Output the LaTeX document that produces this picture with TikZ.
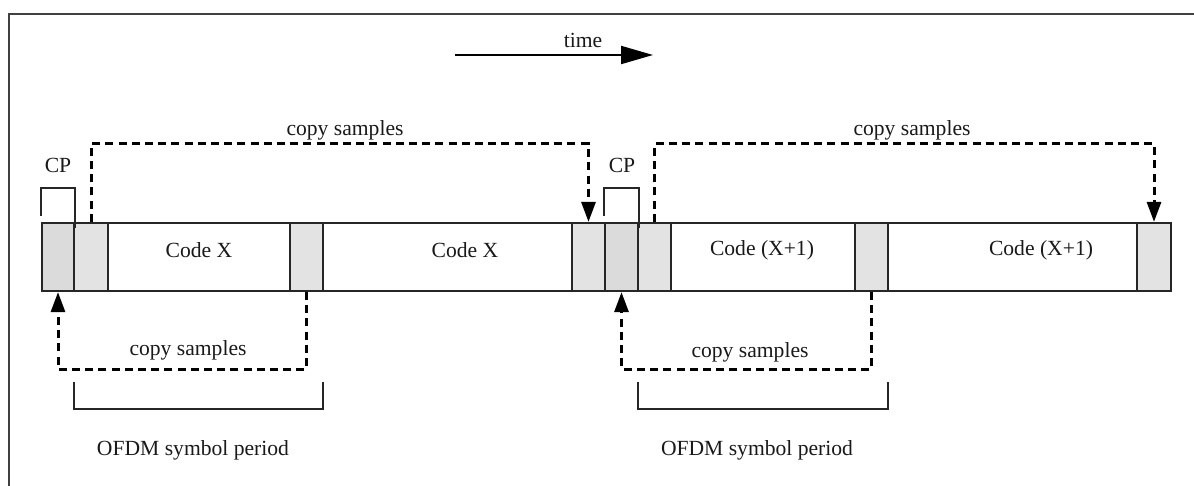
\documentclass[tikz,border=0pt]{standalone}
\usepackage{fontspec}
\setmainfont{Liberation Serif}
\usetikzlibrary{arrows.meta,fit}
\begin{document}
\begin{tikzpicture}[x=0.5pt,y=-0.5pt,
  lbl/.style={font=\fontsize{10.8}{12}\selectfont, text=black!90, inner sep=1pt},
  seg/.style={draw=black!85, line width=1.1pt, inner sep=0pt},
  cpseg/.style={seg, fill=gray!28},
  guard/.style={seg, fill=gray!22},
  body/.style={seg, fill=white},
  copypath/.style={draw=black, line width=1.5pt, dash pattern=on 4pt off 2.6pt},
  copytip/.style={-{Triangle[length=10pt,width=7pt]}},
  bracketline/.style={draw=black!85, line width=1.2pt},
  framelinestyle/.style={draw=black!75, line width=1.4pt}
]
\useasboundingbox (0,0) rectangle (1194,486);

% outer frame (only top and left edges are inside the page)
\draw[framelinestyle] (9,490) -- (9,14) -- (1198,14);

% time axis
\coordinate (t0) at (455,55);
\coordinate (t1) at (653,55);
\draw[line width=1pt, -{Triangle[length=16pt,width=9pt]}] (t0) -- (t1);
\node[lbl] (timelbl) at (583,40) {time};

% first OFDM symbol
\node[cpseg, fit={(42,223)(74,291)}] (cpa) {};
\node[guard, fit={(74,223)(108,291)}] (ga) {};
\node[body, fit={(108,223)(290,291)}] (ba) {};
\node[guard, fit={(290,223)(323,291)}] (gb) {};
\node[body, fit={(323,223)(572,291)}] (bb) {};
\node[guard, fit={(572,223)(605,291)}] (gc) {};
% second OFDM symbol
\node[cpseg, fit={(605,223)(638,291)}] (cpb) {};
\node[guard, fit={(638,223)(671,291)}] (gd) {};
\node[body, fit={(671,223)(855,291)}] (bc) {};
\node[guard, fit={(855,223)(888,291)}] (ge) {};
\node[body, fit={(888,223)(1137,291)}] (bd) {};
\node[guard, fit={(1137,223)(1171,291)}] (gf) {};

% code labels
\node[lbl] (codea) at (199,250) {Code X};
\node[lbl] (codeb) at (465,250) {Code X};
\node[lbl] (codec) at (762,250) {Code (X+1)};
\node[lbl] (coded) at (1041,250) {Code (X+1)};

% CP brackets
\draw[bracketline] (cpa.north west) ++(0,-6) -- ++(0,-28) -| ([yshift=-6*0.5pt]cpa.north east);
\draw[bracketline] (cpb.north west) ++(0,-6) -- ++(0,-28) -| ([yshift=-6*0.5pt]cpb.north east);
\node[lbl] (cpalbl) at (58,165) {CP};
\node[lbl] (cpblbl) at (622,165) {CP};

% copy paths above the bar
\draw[copypath, copytip] (ga.north) -- ++(0,-78) -| (gc.north);
\draw[copypath, copytip] (gd.north) -- ++(0,-78) -| (gf.north);
\node[lbl] (cpya) at (345,130) {copy samples};
\node[lbl] (cpyb) at (912,130) {copy samples};

% copy paths below the bar
\draw[copypath, copytip] (gb.south) -- ++(0,77) -| (cpa.south);
\draw[copypath, copytip] (ge.south) -- ++(0,77) -| (cpb.south);
\node[lbl] (cpyc) at (188,350) {copy samples};
\node[lbl] (cpyd) at (750,352) {copy samples};

% symbol period brackets
\draw[bracketline] (74,382) -- (74,409) -- (323,409) -- (323,382);
\draw[bracketline] (638,382) -- (638,409) -- (888,409) -- (888,382);
\node[lbl] (pera) at (193,450) {OFDM symbol period};
\node[lbl] (perb) at (757,450) {OFDM symbol period};
\end{tikzpicture}
\end{document}
